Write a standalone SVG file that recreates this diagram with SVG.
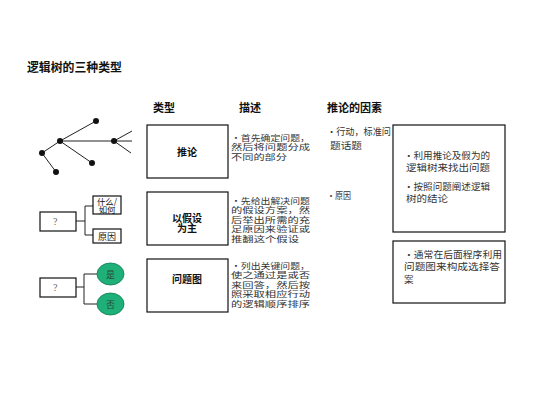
<svg xmlns="http://www.w3.org/2000/svg" width="536" height="402" viewBox="0 0 536 402">
<style>
.t{font-family:"Noto Sans CJK SC","Noto Sans",sans-serif;fill:#111}
.h{font-size:11px;font-weight:bold}
.d{font-size:9.5px;fill:#333}
.s{font-size:8.4px;fill:#333}
.b{fill:#fff;stroke:#111;stroke-width:1.2}
.c{fill:none;stroke:#222;stroke-width:1}
.dot{fill:#111}
.q{font-family:"Liberation Serif",serif;font-size:10px;fill:#666}
.g{fill:#1fb079;stroke:#0d7a50;stroke-width:0.8}
</style>
<rect width="536" height="402" fill="#fff"/>
<text class="t" x="27" y="72" style="font-size:12px;font-weight:bold" textLength="95" lengthAdjust="spacingAndGlyphs">逻辑树的三种类型</text>
<g id="headers">
<text class="t h" x="153" y="112">类型</text>
<text class="t h" x="239" y="112">描述</text>
<text class="t h" x="327" y="112">推论的因素</text>
</g>
<g id="connectors">
<path class="c" d="M60 141L96 121M60 141L114 141M60 141L42 153L56 172M60 141L92 163M114 141L132 131M114 141L132 141M114 141L131 153"/>
<path class="c" d="M76 221H85M85 206V235M85 206H93M85 235H93"/>
<path class="c" d="M76 287H84M84 274V304M84 274H97M84 304H97"/>
</g>
<g id="tree">
<circle class="dot" cx="60" cy="141" r="3"/>
<circle class="dot" cx="96" cy="121" r="3"/>
<circle class="dot" cx="42" cy="153" r="3"/>
<circle class="dot" cx="56" cy="172" r="3"/>
<circle class="dot" cx="92" cy="163" r="3"/>
<circle class="dot" cx="114" cy="141" r="3"/>
</g>
<g id="q1">
<rect class="b" x="40" y="212" width="36" height="19"/>
<text class="q" x="53" y="225">?</text>
</g>
<g id="whathow">
<rect class="b" x="93" y="196" width="28" height="18"/>
<text class="t" text-anchor="middle" style="font-size:8.4px"><tspan x="107" y="204.5">什么/</tspan><tspan x="107" y="213">如何</tspan></text>
</g>
<g id="reason">
<rect class="b" x="93" y="229" width="28" height="14"/>
<text class="t" x="107" y="239.5" text-anchor="middle" style="font-size:9px">原因</text>
</g>
<g id="q2">
<rect class="b" x="40" y="278" width="36" height="19"/>
<text class="q" x="53" y="291">?</text>
</g>
<g id="yes">
<ellipse class="g" cx="110.5" cy="274" rx="13.5" ry="11"/>
<text class="t" x="110.5" y="277.5" text-anchor="middle" style="font-size:9px;fill:#2b4a35">是</text>
</g>
<g id="no">
<ellipse class="g" cx="110.5" cy="304" rx="13.5" ry="11"/>
<text class="t" x="110.5" y="307.5" text-anchor="middle" style="font-size:9px;fill:#2b4a35">否</text>
</g>
<g id="type1">
<rect class="b" x="147" y="125" width="81" height="53"/>
<text class="t" x="187" y="156" text-anchor="middle" style="font-size:10px;font-weight:bold">推论</text>
</g>
<g id="type2">
<rect class="b" x="147" y="192" width="81" height="53"/>
<text class="t" text-anchor="middle" style="font-size:10px;font-weight:bold"><tspan x="187" y="221.5">以假设</tspan><tspan x="187" y="232">为主</tspan></text>
</g>
<g id="type3">
<rect class="b" x="147" y="259" width="81" height="53"/>
<text class="t" x="187" y="283" text-anchor="middle" style="font-size:10px;font-weight:bold">问题图</text>
</g>
<g id="desc1">
<text class="t s"><tspan x="231" y="140.5" textLength="79" lengthAdjust="spacingAndGlyphs">•首先确定问题，</tspan><tspan x="231" y="150" textLength="79" lengthAdjust="spacingAndGlyphs">然后将问题分成</tspan><tspan x="231" y="159.5" textLength="56" lengthAdjust="spacingAndGlyphs">不同的部分</tspan></text>
</g>
<g id="desc2">
<text class="t s"><tspan x="231" y="203.5" textLength="79" lengthAdjust="spacingAndGlyphs">•先给出解决问题</tspan><tspan x="231" y="213" textLength="79" lengthAdjust="spacingAndGlyphs">的假设方案，然</tspan><tspan x="231" y="222.5" textLength="79" lengthAdjust="spacingAndGlyphs">后举出所需的充</tspan><tspan x="231" y="232" textLength="79" lengthAdjust="spacingAndGlyphs">足原因来验证或</tspan><tspan x="231" y="241.5" textLength="68" lengthAdjust="spacingAndGlyphs">推翻这个假设</tspan></text>
</g>
<g id="desc3">
<text class="t s"><tspan x="231" y="268.5" textLength="79" lengthAdjust="spacingAndGlyphs">•列出关键问题，</tspan><tspan x="231" y="278" textLength="79" lengthAdjust="spacingAndGlyphs">使之通过是或否</tspan><tspan x="231" y="287.5" textLength="79" lengthAdjust="spacingAndGlyphs">来回答，然后按</tspan><tspan x="231" y="297" textLength="79" lengthAdjust="spacingAndGlyphs">照采取相应行动</tspan><tspan x="231" y="306.5" textLength="79" lengthAdjust="spacingAndGlyphs">的逻辑顺序排序</tspan></text>
</g>
<g id="factors">
<text class="t d"><tspan x="327" y="135" textLength="64" lengthAdjust="spacingAndGlyphs">•行动，标准问</tspan><tspan x="330" y="148.5" textLength="32" lengthAdjust="spacingAndGlyphs">题话题</tspan></text>
<text class="t d" x="327" y="198.5" textLength="24" lengthAdjust="spacingAndGlyphs">•原因</text>
</g>
<g id="note1">
<rect class="b" x="393" y="125" width="112" height="107"/>
<text class="t d"><tspan x="404" y="158.5" textLength="86" lengthAdjust="spacingAndGlyphs">•利用推论及假为的</tspan><tspan x="406" y="170.5" textLength="84" lengthAdjust="spacingAndGlyphs">逻辑树来找出问题</tspan></text>
<text class="t d"><tspan x="404" y="189.5" textLength="86" lengthAdjust="spacingAndGlyphs">•按照问题阐述逻辑</tspan><tspan x="406" y="201.5" textLength="42" lengthAdjust="spacingAndGlyphs">树的结论</tspan></text>
</g>
<g id="note2">
<rect class="b" x="393" y="241" width="112" height="62"/>
<text class="t d"><tspan x="404" y="257.5" textLength="98" lengthAdjust="spacingAndGlyphs">•通常在后面程序利用</tspan><tspan x="404" y="270" textLength="96" lengthAdjust="spacingAndGlyphs">问题图来构成选择答</tspan><tspan x="404" y="282.5">案</tspan></text>
</g>
</svg>
